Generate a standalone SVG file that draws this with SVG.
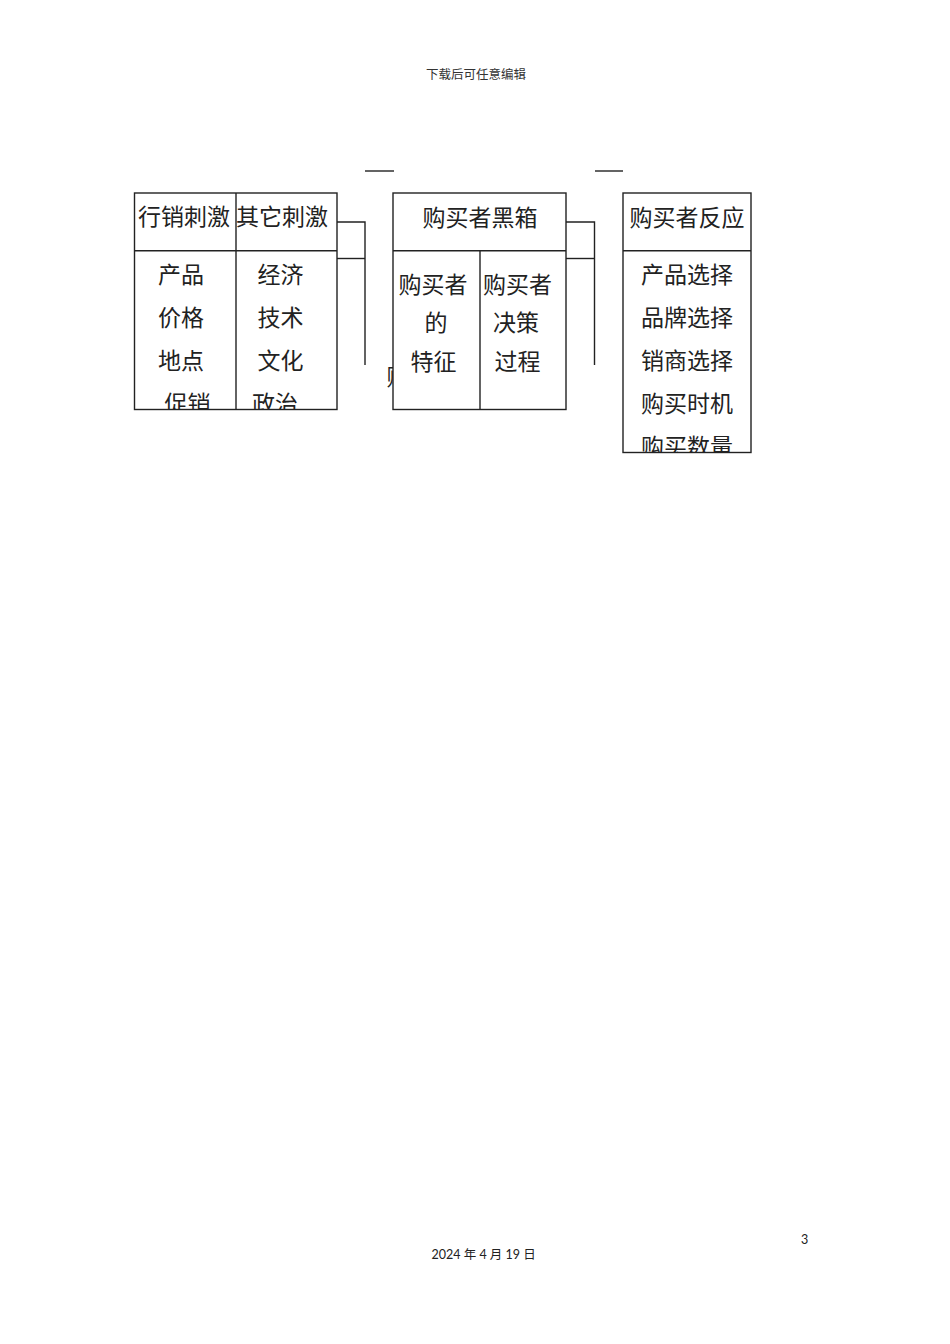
<svg xmlns="http://www.w3.org/2000/svg" width="950" height="1344" viewBox="0 0 950 1344">
<style>
.box{fill:#fff;stroke:#222;stroke-width:1.4}
.ln{fill:none;stroke:#222;stroke-width:1.4}
.t{font-family:"Noto Sans CJK SC","Noto Sans CJK JP",sans-serif;font-size:23px;fill:#222;text-anchor:middle}
.hdr{font-family:"Noto Sans CJK SC",sans-serif;font-size:12.5px;fill:#333;text-anchor:middle}
.ftr{font-family:Lato,"Noto Sans CJK SC",sans-serif;font-size:12.5px;fill:#222}
</style>
<defs>
<clipPath id="c1"><rect x="134" y="251" width="203" height="158"/></clipPath>
<clipPath id="c3"><rect x="623" y="251" width="128" height="201"/></clipPath>
</defs>
<rect width="950" height="1344" fill="#fff"/>
<text class="hdr" x="476" y="79">下载后可任意编辑</text>

<g id="dashes">
<line class="ln" x1="365" y1="171" x2="394" y2="171"/>
<line class="ln" x1="595" y1="171" x2="623" y2="171"/>
</g>

<g id="connectors">
<polyline class="ln" points="337,222 365,222 365,365"/>
<line class="ln" x1="337" y1="258.5" x2="365" y2="258.5"/>
<polyline class="ln" points="566,222 594.5,222 594.5,365"/>
<line class="ln" x1="566" y1="258.5" x2="594.5" y2="258.5"/>
</g>

<text class="t" x="398" y="384.7">购</text>

<g id="stimuli">
<rect class="box" x="134.5" y="193" width="202.5" height="216.5"/>
<line class="ln" x1="236" y1="193" x2="236" y2="409.5"/>
<line class="ln" x1="134.5" y1="250.8" x2="337" y2="250.8"/>
<text class="t" x="184" y="225">行销刺激</text>
<text class="t" x="282" y="225">其它刺激</text>
<g clip-path="url(#c1)">
<text class="t" x="181" y="282.7">产品</text>
<text class="t" x="181" y="325.7">价格</text>
<text class="t" x="181" y="368.7">地点</text>
<text class="t" x="187.5" y="411.7">促销</text>
<text class="t" x="280.5" y="282.7">经济</text>
<text class="t" x="280.5" y="325.7">技术</text>
<text class="t" x="280.5" y="368.7">文化</text>
<text class="t" x="275" y="411.7">政治</text>
</g>
</g>

<g id="blackbox">
<rect class="box" x="393" y="193" width="173" height="216.5"/>
<line class="ln" x1="393" y1="250.8" x2="566" y2="250.8"/>
<line class="ln" x1="480" y1="250.8" x2="480" y2="409.5"/>
<text class="t" x="480" y="226">购买者黑箱</text>
<text class="t" x="433" y="292.7">购买者</text>
<text class="t" x="436" y="331.2">的</text>
<text class="t" x="433.5" y="369.5">特征</text>
<text class="t" x="517.5" y="292.7">购买者</text>
<text class="t" x="516" y="331.2">决策</text>
<text class="t" x="517.5" y="369.5">过程</text>
</g>

<g id="response">
<rect class="box" x="623" y="193" width="128" height="259.5"/>
<line class="ln" x1="623" y1="250.8" x2="751" y2="250.8"/>
<text class="t" x="687" y="226">购买者反应</text>
<g clip-path="url(#c3)">
<text class="t" x="687" y="282.7">产品选择</text>
<text class="t" x="687" y="325.7">品牌选择</text>
<text class="t" x="687" y="368.7">销商选择</text>
<text class="t" x="687" y="411.7">购买时机</text>
<text class="t" x="687" y="454.7">购买数量</text>
</g>
</g>

<text class="ftr" x="801" y="1244">3</text>
<text class="ftr" x="431.5" y="1259.3">2024 年 4 月 19 日</text>
</svg>
